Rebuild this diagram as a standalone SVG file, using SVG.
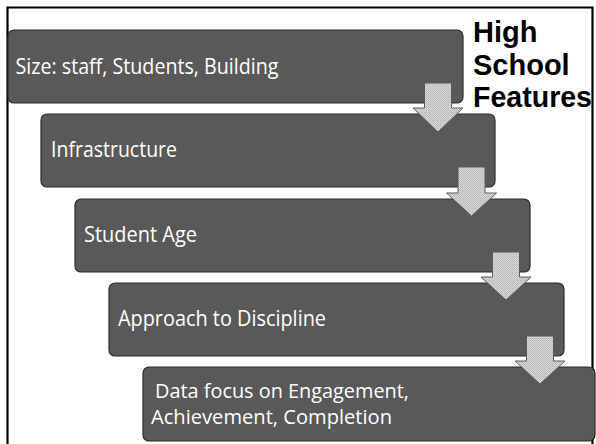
<svg xmlns="http://www.w3.org/2000/svg" width="596" height="444" viewBox="0 0 596 444">
<defs>
<pattern id="dots" width="2" height="2" patternUnits="userSpaceOnUse">
<rect width="2" height="2" fill="#d6d6d6"/>
<rect width="1" height="1" fill="#b4b4b4"/>
<rect x="1" y="1" width="1" height="1" fill="#c4c4c4"/>
</pattern>
<style>
.box{fill:#595959;stroke:#2b2b2b;stroke-width:1.2}
.lbl{font-family:"Open Sans","Noto Sans","DejaVu Sans",sans-serif;font-size:21px;fill:#ffffff}
.lbl2{font-size:20px}
.title{font-family:"Liberation Sans",Arial,sans-serif;font-size:29px;font-weight:bold;fill:#000000}
.arr{fill:url(#dots);stroke:#5a5a5a;stroke-width:1}
</style>
</defs>
<rect width="596" height="444" fill="#ffffff"/>
<path d="M7.5 450 V7.5 H592.5 V450" fill="none" stroke="#000" stroke-width="2.2"/>
<g id="title">
<text class="title" x="473" y="42">High</text>
<text class="title" x="473" y="74.5">School</text>
<text class="title" x="473" y="107" textLength="119" lengthAdjust="spacingAndGlyphs">Features</text>
</g>
<g id="node1">
<rect class="box" x="8" y="30" width="455" height="73" rx="6"/>
<text class="lbl" x="15.5" y="74" textLength="263" lengthAdjust="spacingAndGlyphs">Size: staff, Students, Building</text>
</g>
<g id="node2">
<rect class="box" x="41" y="114" width="454" height="73" rx="6"/>
<text class="lbl" x="51" y="157" textLength="126" lengthAdjust="spacingAndGlyphs">Infrastructure</text>
</g>
<g id="node3">
<rect class="box" x="75" y="199" width="455" height="73" rx="6"/>
<text class="lbl" x="84" y="242" textLength="113" lengthAdjust="spacingAndGlyphs">Student Age</text>
</g>
<g id="node4">
<rect class="box" x="109" y="283" width="455" height="73" rx="6"/>
<text class="lbl" x="118" y="325.5" textLength="208" lengthAdjust="spacingAndGlyphs">Approach to Discipline</text>
</g>
<g id="node5">
<rect class="box" x="143" y="367" width="452" height="74" rx="6"/>
<text class="lbl lbl2" x="155" y="398" textLength="254" lengthAdjust="spacingAndGlyphs">Data focus on Engagement,</text>
<text class="lbl lbl2" x="151" y="424" textLength="241" lengthAdjust="spacingAndGlyphs">Achievement, Completion</text>
</g>
<g id="connectors">
<path class="arr" d="M424.5 83 H451.5 V108 H463 L438 132 L413 108 H424.5 Z"/>
<path class="arr" d="M458 167 H485 V193 H496.5 L471.5 216 L446.5 193 H458 Z"/>
<path class="arr" d="M492.5 252 H519.5 V277 H531 L506 300 L481 277 H492.5 Z"/>
<path class="arr" d="M526.5 336 H553.5 V361 H565 L540 384 L515 361 H526.5 Z"/>
</g>
</svg>
